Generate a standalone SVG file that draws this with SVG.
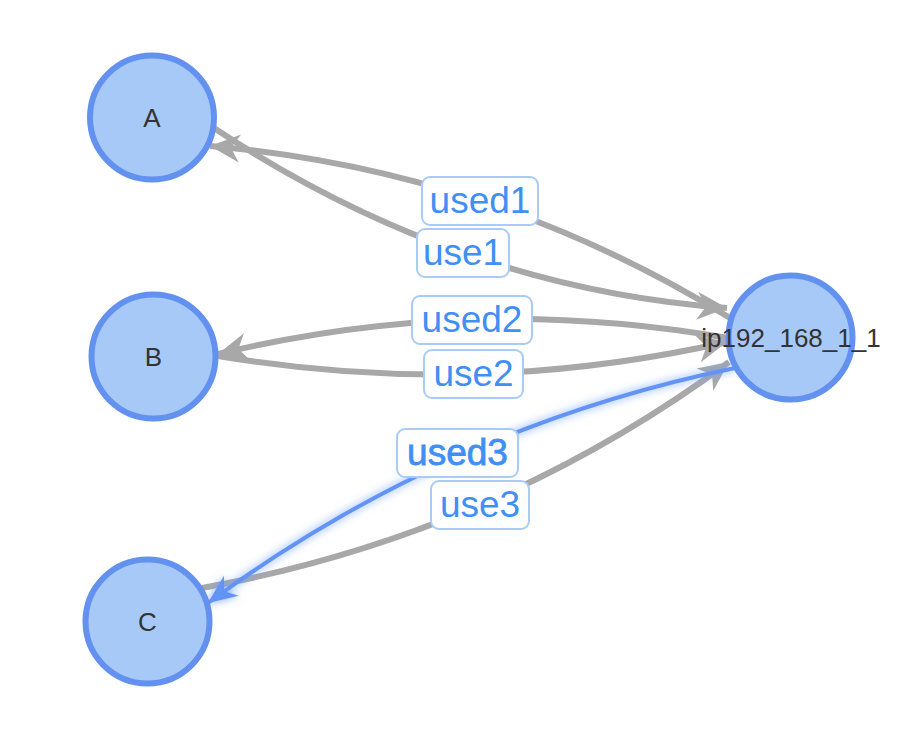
<svg xmlns="http://www.w3.org/2000/svg" width="920" height="750" viewBox="0 0 920 750">
  <defs>
    <style>
      .edge { fill: none; stroke: #a8a8a8; stroke-width: 6; }
      .edge-hl { fill: none; stroke: #6494f5; stroke-width: 4; }
      .lbl-box { fill: #ffffff; stroke: #a9cbf7; stroke-width: 2; }
      .lbl { font-family: "Liberation Sans", Arial, sans-serif; font-size: 37px; fill: #3f8ff5; text-anchor: middle; }
      .lbl-hl { stroke: #3f8ff5; stroke-width: 0.8; }
      .node circle { fill: #a7c9f8; stroke: #6391f0; stroke-width: 6; }
      .node text { font-family: "Liberation Sans", Arial, sans-serif; font-size: 26px; fill: #333333; text-anchor: middle; }
    </style>
    <marker id="arrow-gray" markerUnits="userSpaceOnUse" viewBox="-32 -16 34 32" refX="0" refY="0" markerWidth="34" markerHeight="32" orient="auto" overflow="visible">
      <path d="M0,0 L-30,-14 L-21,0 L-30,14 Z" fill="#a8a8a8"/>
    </marker>
    <marker id="arrow-blue" markerUnits="userSpaceOnUse" viewBox="-32 -16 34 32" refX="0" refY="0" markerWidth="34" markerHeight="32" orient="auto" overflow="visible">
      <path d="M0,0 L-29,-12.5 L-20,0 L-29,12.5 Z" fill="#6494f5"/>
    </marker>
    <filter id="glow" x="-20%" y="-20%" width="140%" height="140%">
      <feDropShadow dx="0" dy="0" stdDeviation="4" flood-color="#6a9cff" flood-opacity="0.9"/>
    </filter>
  </defs>

  <g id="edges">
    <path id="edge-used1" class="edge" d="M730,318 Q490,170 210,146" marker-end="url(#arrow-gray)"/>
    <path id="edge-use1" class="edge" d="M214,128 Q455.5,288 727,308" marker-end="url(#arrow-gray)"/>
    <path id="edge-used2" class="edge" d="M728,338 Q471,293 218,354" marker-end="url(#arrow-gray)"/>
    <path id="edge-use2" class="edge" d="M218,356 Q474.5,399 727,342" marker-end="url(#arrow-gray)"/>
    <path id="edge-use3" class="edge" d="M202,588 Q494.5,535 729,362" marker-end="url(#arrow-gray)"/>
    <path id="edge-used3" class="edge-hl" d="M735,368 Q447,427 208,603" marker-end="url(#arrow-blue)" filter="url(#glow)"/>

    <g id="label-used1">
      <rect class="lbl-box" x="422" y="177" width="116" height="48" rx="8"/>
      <text class="lbl" x="480" y="213">used1</text>
    </g>
    <g id="label-use1">
      <rect class="lbl-box" x="417" y="229" width="92" height="48" rx="8"/>
      <text class="lbl" x="463" y="265">use1</text>
    </g>
    <g id="label-used2">
      <rect class="lbl-box" x="412" y="296" width="120" height="48" rx="8"/>
      <text class="lbl" x="472" y="332">used2</text>
    </g>
    <g id="label-use2">
      <rect class="lbl-box" x="424" y="350" width="99" height="48" rx="8"/>
      <text class="lbl" x="473.5" y="386">use2</text>
    </g>
    <g id="label-used3">
      <rect class="lbl-box" x="397" y="429" width="121" height="48" rx="8"/>
      <text class="lbl lbl-hl" x="457.5" y="465">used3</text>
    </g>
    <g id="label-use3">
      <rect class="lbl-box" x="431" y="481" width="98" height="48" rx="8"/>
      <text class="lbl" x="480" y="517">use3</text>
    </g>
  </g>

  <g id="node-A" class="node">
    <circle cx="152" cy="117.5" r="62"/>
    <text x="152" y="127">A</text>
  </g>
  <g id="node-B" class="node">
    <circle cx="153.5" cy="356.5" r="62"/>
    <text x="153.5" y="366">B</text>
  </g>
  <g id="node-C" class="node">
    <circle cx="147.5" cy="621.5" r="62"/>
    <text x="147.5" y="631">C</text>
  </g>
  <g id="node-ip192_168_1_1" class="node">
    <circle cx="790.5" cy="337.5" r="62"/>
    <text x="791" y="347">ip192_168_1_1</text>
  </g>
</svg>
